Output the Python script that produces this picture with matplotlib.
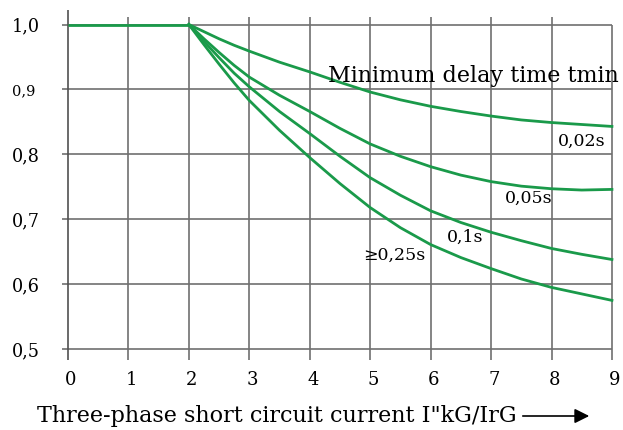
import matplotlib
matplotlib.use("Agg")
import matplotlib.pyplot as plt
import numpy as np

plt.rcParams['font.family'] = ['DejaVu Serif']

# current ratio I"kG/IrG
x_flat = [0, 1, 2]
y_flat = [1.0, 1.0, 1.0]
x_curve = [2, 2.25, 2.5, 2.75, 3, 3.5, 4, 4.5, 5, 5.5, 6, 6.5, 7, 7.5, 8, 8.5, 9]

# factor for each minimum delay time
t_002 = [1.0, 0.989, 0.978, 0.968, 0.959, 0.942, 0.927, 0.911, 0.896, 0.884, 0.874, 0.866, 0.859, 0.853, 0.849, 0.846, 0.843]
t_005 = [1.0, 0.978, 0.957, 0.937, 0.919, 0.891, 0.866, 0.840, 0.816, 0.797, 0.781, 0.768, 0.758, 0.751, 0.747, 0.745, 0.746]
t_01 = [1.0, 0.974, 0.949, 0.925, 0.904, 0.866, 0.832, 0.797, 0.764, 0.737, 0.713, 0.695, 0.680, 0.667, 0.655, 0.646, 0.638]
t_025 = [1.0, 0.969, 0.939, 0.910, 0.883, 0.837, 0.795, 0.755, 0.718, 0.687, 0.661, 0.641, 0.624, 0.608, 0.595, 0.585, 0.575]

x_ticks = list(range(10))
y_ticks = [0.5, 0.6, 0.7, 0.8, 0.9, 1.0]
y_tick_labels = ["0,5", "0,6", "0,7", "0,8", "0,9", "1,0"]

green = "#1a9a4a"
grid_col = "#707070"

fig = plt.figure(figsize=(6.23, 4.30), dpi=100)
ax = fig.add_axes([0.0975, 0.158, 0.8896, 0.8227])
ax.set_xlim(-0.12, 9.05)
ax.set_ylim(0.48, 1.025)
ax.axis('off')

# grid
ax.hlines(y_ticks, -0.1, 9, color=grid_col, lw=1.2)
ax.vlines(x_ticks[1:-1], 0.483, 1.011, color=grid_col, lw=1.2)
ax.vlines(9, 0.483, 1.0, color=grid_col, lw=1.2)
ax.vlines(0, 0.483, 1.023, color="#505050", lw=1.2)

# curves
ax.plot(x_flat, y_flat, color=green, lw=2, solid_capstyle='butt')
for ys in [t_002, t_005, t_01, t_025]:
    ax.plot(x_curve, ys, color=green, lw=2)

# tick labels
for y, lab in zip(y_ticks, y_tick_labels):
    size = 10.5 if lab == "0,9" else 12.7
    ax.text(-0.93, y, lab, ha='left', va='center_baseline', fontsize=size, clip_on=False)
for x in x_ticks:
    ax.text(x + 0.05, 0.455, str(x), ha='center', va='center_baseline', fontsize=13, clip_on=False)

# annotations
ax.text(4.30, 0.911, "Minimum delay time tmin", fontsize=16, ha='left', va='baseline')
ax.text(8.89, 0.813, "0,02s", fontsize=12.5, ha='right', va='baseline')
ax.text(8.01, 0.725, "0,05s", fontsize=12.5, ha='right', va='baseline')
ax.text(6.87, 0.665, "0,1s", fontsize=12.5, ha='right', va='baseline')
ax.text(5.91, 0.638, "≥0,25s", fontsize=12.5, ha='right', va='baseline')

fig.text(37 / 623, 1 - 422 / 430, "Three-phase short circuit current I\"kG/IrG",
         fontsize=16, ha='left', va='baseline')
ax.annotate('', xy=(592 / 623, 1 - 416 / 430), xytext=(520 / 623, 1 - 416 / 430),
            xycoords='figure fraction', textcoords='figure fraction',
            arrowprops=dict(arrowstyle='-|>', mutation_scale=22, color='black', lw=1.2))

fig.savefig("out.png", dpi=100)
